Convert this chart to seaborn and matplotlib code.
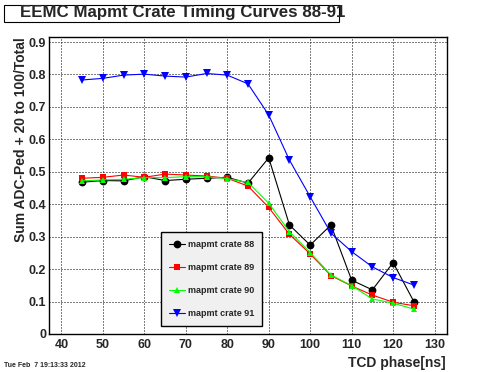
import pandas as pd
import matplotlib
matplotlib.use("Agg")
import matplotlib.pyplot as plt
import matplotlib.ticker as mticker
from matplotlib.patches import Rectangle
import seaborn as sns

# TCD phase (ns) scan points
phase = [45, 50, 55, 60, 65, 70, 75, 80, 85, 90, 95, 100, 105, 110, 115, 120, 125]

crate88 = [0.468, 0.473, 0.472, 0.485, 0.473, 0.477, 0.480, 0.483, 0.465,
           0.543, 0.336, 0.274, 0.336, 0.166, 0.136, 0.220, 0.100]
crate89 = [0.480, 0.483, 0.490, 0.483, 0.493, 0.490, 0.487, 0.480, 0.456,
           0.390, 0.307, 0.247, 0.180, 0.148, 0.120, 0.098, 0.087]
crate90 = [0.472, 0.475, 0.477, 0.482, 0.482, 0.485, 0.485, 0.479, 0.467,
           0.403, 0.315, 0.251, 0.182, 0.149, 0.108, 0.095, 0.077]
crate91 = [0.783, 0.788, 0.798, 0.801, 0.795, 0.792, 0.803, 0.798, 0.771,
           0.675, 0.536, 0.423, 0.311, 0.254, 0.207, 0.174, 0.151]

labels = ["mapmt crate 88", "mapmt crate 89", "mapmt crate 90", "mapmt crate 91"]
series = [crate88, crate89, crate90, crate91]
colors = ["#000000", "#ff0000", "#00ff00", "#0000ff"]
markers = ["o", "s", "^", "v"]
msizes = [5.6, 5.0, 4.2, 5.2]

df = pd.concat([pd.DataFrame({"phase": phase, "value": s, "crate": lab})
                for s, lab in zip(series, labels)])

sns.set_style("white")
plt.rcParams["font.family"] = ["Liberation Sans", "DejaVu Sans"]
plt.rcParams["font.weight"] = "bold"

fig = plt.figure(figsize=(4.96, 3.72), dpi=100)
ax = fig.add_axes([49 / 496, 1 - 334 / 372, 398 / 496, 297 / 372])

for lab, col, mk, ms in zip(labels, colors, markers, msizes):
    sns.lineplot(data=df[df["crate"] == lab], x="phase", y="value", ax=ax,
                 color=col, marker=mk, markersize=ms, markeredgewidth=0,
                 linewidth=0.8, legend=False, sort=False, zorder=3)

ax.set_xlim(37, 133)
ax.set_ylim(0, 0.9155)

ax.xaxis.set_major_locator(mticker.MultipleLocator(10))
ax.xaxis.set_minor_locator(mticker.MultipleLocator(2))
ax.yaxis.set_major_locator(mticker.MultipleLocator(0.1))
ax.yaxis.set_minor_locator(mticker.MultipleLocator(0.02))
ax.yaxis.set_major_formatter(mticker.FuncFormatter(
    lambda v, p: "0" if abs(v) < 1e-9 else f"{v:.1f}"))

ax.tick_params(axis="both", which="both", direction="in", labelsize=9,
               color="black", width=0.8)
ax.tick_params(axis="both", which="major", length=7)
ax.tick_params(axis="both", which="minor", length=3.6)
ax.tick_params(axis="x", which="major", pad=3.5)
ax.tick_params(axis="y", which="major", pad=2)
for t in ax.get_xticklabels() + ax.get_yticklabels():
    t.set_fontweight("bold")

ax.grid(True, which="major", color="black", linewidth=0.72,
        linestyle=(0, (1, 2)))
for sp in ax.spines.values():
    sp.set_color("black")
    sp.set_linewidth(1.0)

ax.set_xlabel("")
ax.set_ylabel("")
fig.text(446 / 496, 1 - 367 / 372, "TCD phase[ns]", ha="right", va="baseline",
         fontsize=10, fontweight="bold")
fig.text(21.5 / 496, 1 - 37 / 372, "Sum ADC-Ped + 20 to 100/Total", rotation=90,
         ha="center", va="top", fontsize=10, fontweight="bold")

# title box (text runs past the box, as in the original)
fig.patches.append(Rectangle((4 / 496, 1 - 22 / 372), 335 / 496, 17 / 372,
                             transform=fig.transFigure, facecolor="white",
                             edgecolor="black", linewidth=0.8))
fig.text(20 / 496, 1 - 17.5 / 372, "EEMC Mapmt Crate Timing Curves 88-91",
         ha="left", va="baseline", fontsize=12.2, fontweight="bold")

fig.text(4 / 496, 1 - 367 / 372, "Tue Feb  7 19:13:33 2012", ha="left",
         va="baseline", fontsize=5, fontweight="bold")

leg = ax.legend(ax.lines[:4], labels, loc="upper left",
                bbox_to_anchor=(161 / 496, 1 - 232 / 372),
                bbox_transform=fig.transFigure, borderaxespad=0,
                fontsize=6.5, handlelength=1.8, handletextpad=0.25,
                labelspacing=1.55, borderpad=0.9, fancybox=False,
                framealpha=1, facecolor="#f0f0f0", edgecolor="black")
leg.get_frame().set_linewidth(1.0)
for t in leg.get_texts():
    t.set_fontweight("bold")

fig.savefig("out.png", dpi=100)
